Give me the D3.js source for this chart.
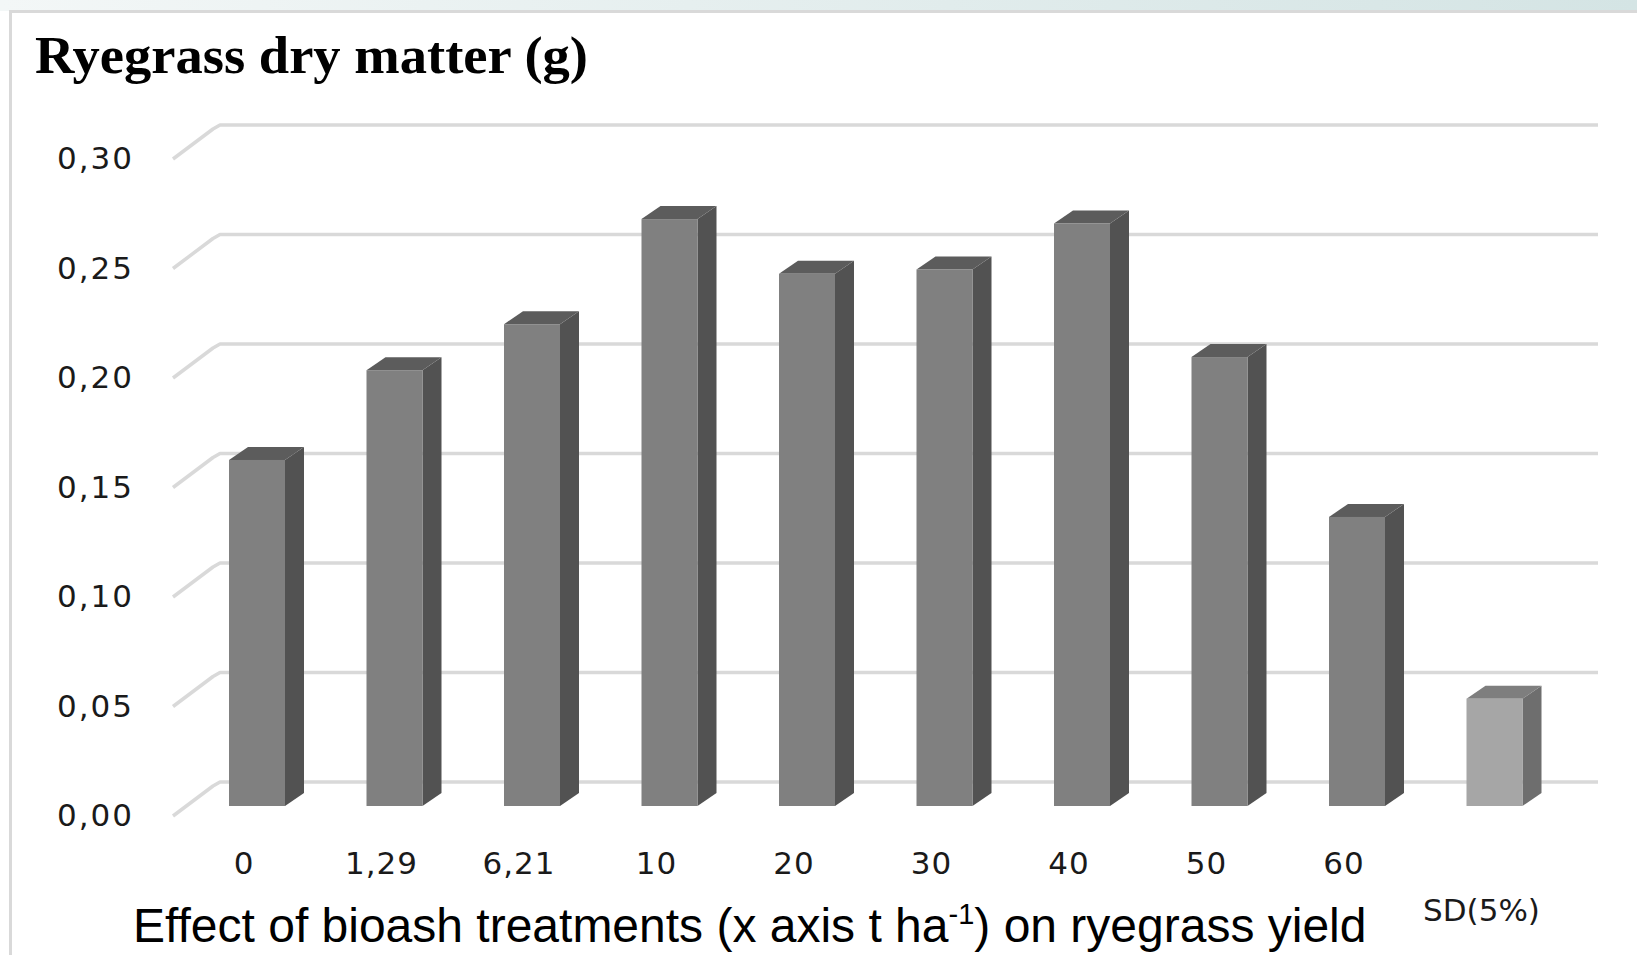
<!DOCTYPE html>
<html>
<head>
<meta charset="utf-8">
<script src="https://cdn.jsdelivr.net/npm/d3@7"></script>
<style>
  html, body { margin: 0; padding: 0; background: #fff; }
  svg { display: block; }
</style>
</head>
<body>
<script>
// categories (t ha-1) and the SD bar at the end
var categories = ["0", "1,29", "6,21", "10", "20", "30", "40", "50", "60", "SD(5%)"];
var dryMatter = [0.158, 0.199, 0.220, 0.268, 0.243, 0.245, 0.266, 0.205, 0.132, 0.049];
var yTicks = [0, 0.05, 0.10, 0.15, 0.20, 0.25, 0.30];
var yTickLabels = ["0,00", "0,05", "0,10", "0,15", "0,20", "0,25", "0,30"];

(() => {
    var W = 1637, H = 955;

    var svg = d3.select("body").append("svg")
        .attr("width", W).attr("height", H);

    // frame: light band on top and grey border
    var defs = svg.append("defs");
    var grad = defs.append("linearGradient").attr("id", "band")
        .attr("x1", "0").attr("x2", "1").attr("y1", "0").attr("y2", "0");
    grad.append("stop").attr("offset", "0").attr("stop-color", "#f3f7f7");
    grad.append("stop").attr("offset", "1").attr("stop-color", "#d4e4e4");
    svg.append("rect").attr("x", 0).attr("y", 0).attr("width", W).attr("height", 11)
        .attr("fill", "url(#band)");
    svg.append("path").attr("d", "M10.5," + H + "V11.5H" + W)
        .attr("fill", "none").attr("stroke", "#d9d9d9").attr("stroke-width", 3);

    // 3d layout: bars stand a bit in front of the back wall
    var depth = { dx: 19, dy: 13 },      // bar depth
        wallShift = 24,                   // back wall is this much higher than bar front plane
        labelShift = 9;                   // y labels sit at the front of the floor

    var x = d3.scaleBand().domain(categories).range([188.25, 1563.25]);
    var barW = 56;
    var y = d3.scaleLinear().domain([0, 0.30]).range([806, 806 - 0.30 * 2190]);

    var wallLeft = 220, wallRight = 1598;

    // gridlines on the back wall, with the slanted bit on the left wall
    svg.append("g").selectAll("path").data(yTicks).enter().append("path")
        .attr("d", (d) => {
            var yb = y(d) - wallShift;
            return "M173," + (yb + 34) + "L213," + (yb + 4) + "L" + wallLeft + "," + yb + "H" + wallRight;
        })
        .attr("fill", "none").attr("stroke", "#d9d9d9").attr("stroke-width", 3.5)
        .attr("stroke-linejoin", "round");

    // y labels
    svg.append("g").selectAll("text").data(yTicks).enter().append("text")
        .attr("x", 134).attr("y", (d) => y(d) + labelShift)
        .attr("dy", "0.36em")
        .attr("text-anchor", "end")
        .attr("font-family", "DejaVu Sans").attr("font-size", 31).attr("fill", "#1a1a1a")
        .attr("letter-spacing", 2)
        .text((d, i) => yTickLabels[i]);

    // bars
    var data = categories.map((c, i) => ({ cat: c, value: dryMatter[i], sd: i == categories.length - 1 }));
    var bar = svg.append("g").selectAll("g").data(data).enter().append("g");

    var x0 = (d) => x(d.cat) + (x.bandwidth() - barW) / 2;

    bar.append("path") // side
        .attr("d", (d) => {
            var l = x0(d) + barW, t = y(d.value), b = y(0);
            return "M" + l + "," + t + "L" + (l + depth.dx) + "," + (t - depth.dy) +
                "L" + (l + depth.dx) + "," + (b - depth.dy) + "L" + l + "," + b + "Z";
        })
        .attr("fill", (d) => d.sd ? "#6e6e6e" : "#525252");

    bar.append("path") // top
        .attr("d", (d) => {
            var l = x0(d), t = y(d.value);
            return "M" + l + "," + t + "L" + (l + depth.dx) + "," + (t - depth.dy) +
                "L" + (l + barW + depth.dx) + "," + (t - depth.dy) + "L" + (l + barW) + "," + t + "Z";
        })
        .attr("fill", (d) => d.sd ? "#7e7e7e" : "#5c5c5c");

    bar.append("rect") // front
        .attr("x", x0).attr("y", (d) => y(d.value))
        .attr("width", barW).attr("height", (d) => y(0) - y(d.value))
        .attr("fill", (d) => d.sd ? "#a6a6a6" : "#808080");

    // x labels (SD label sits lower)
    svg.append("g").selectAll("text").data(data).enter().append("text")
        .attr("x", (d) => x(d.cat) + x.bandwidth() / 2 - 13)
        .attr("y", (d) => d.sd ? 910 : 863)
        .attr("dy", "0.36em")
        .attr("text-anchor", "middle")
        .attr("font-family", "DejaVu Sans").attr("font-size", 31).attr("fill", "#1a1a1a")
        .attr("letter-spacing", (d) => d.sd ? 0 : 1)
        .text((d) => d.cat);

    // title
    svg.append("text").attr("x", 35).attr("y", 73)
        .attr("font-family", "Liberation Serif").attr("font-weight", "bold")
        .attr("font-size", 52).attr("fill", "#000")
        .attr("textLength", 553).attr("lengthAdjust", "spacingAndGlyphs")
        .text("Ryegrass dry matter (g)");

    // caption
    var cap = svg.append("text").attr("x", 133).attr("y", 942)
        .attr("font-family", "Liberation Sans").attr("font-size", 48).attr("fill", "#000");
    cap.append("tspan").text("Effect of bioash treatments (x axis t ha");
    cap.append("tspan").attr("font-size", 29).attr("dy", -18).text("-1");
    cap.append("tspan").attr("dy", 18).text(") on ryegrass yield");
})();
</script>
</body>
</html>
